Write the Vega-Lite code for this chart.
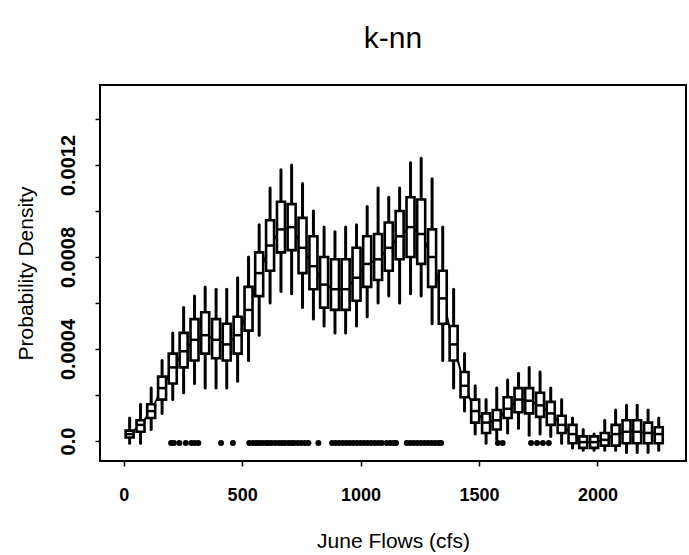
{
  "$schema": "https://vega.github.io/schema/vega-lite/v6.json",
  "width": 586,
  "height": 376,
  "autosize": {"type": "none"},
  "padding": {"left": 100, "top": 85, "right": 3, "bottom": 94},
  "background": "white",
  "title": {"text": "k-nn", "fontSize": 30, "font": "Liberation Sans", "fontWeight": "normal", "offset": 31, "color": "black"},
  "config": {
    "view": {"stroke": "black", "strokeWidth": 2},
    "axis": {"domain": false, "grid": false, "tickSize": 5, "tickWidth": 1.5, "tickColor": "black", "labelColor": "black", "labelFont": "Liberation Sans", "titleFont": "Liberation Sans", "titleColor": "black", "labelFlush": false, "labelOverlap": false}
  },
  "datasets": {
    "boxes": [
      {"x": 25, "lo": -0.00001, "q1": 0.000015, "med": 0.00003, "q3": 0.000045, "hi": 0.0001},
      {"x": 71, "lo": -0.00001, "q1": 0.00004, "med": 0.00007, "q3": 0.00009, "hi": 0.00016},
      {"x": 116, "lo": 0.00005, "q1": 0.0001, "med": 0.00013, "q3": 0.00016, "hi": 0.00023},
      {"x": 162, "lo": 0.00012, "q1": 0.00018, "med": 0.00023, "q3": 0.00028, "hi": 0.00035},
      {"x": 207, "lo": 0.00018, "q1": 0.00025, "med": 0.00032, "q3": 0.00038, "hi": 0.00047},
      {"x": 253, "lo": 0.00021, "q1": 0.00032, "med": 0.00039, "q3": 0.00047, "hi": 0.00058},
      {"x": 299, "lo": 0.00025, "q1": 0.00035, "med": 0.00044, "q3": 0.00053, "hi": 0.00063},
      {"x": 344, "lo": 0.00023, "q1": 0.00038, "med": 0.00046, "q3": 0.00056, "hi": 0.00067},
      {"x": 390, "lo": 0.00023, "q1": 0.00036, "med": 0.00044, "q3": 0.00053, "hi": 0.00066},
      {"x": 435, "lo": 0.00023, "q1": 0.00035, "med": 0.00042, "q3": 0.00051, "hi": 0.00066},
      {"x": 481, "lo": 0.00026, "q1": 0.00038, "med": 0.00046, "q3": 0.00054, "hi": 0.00071},
      {"x": 527, "lo": 0.00035, "q1": 0.00048, "med": 0.00057, "q3": 0.00067, "hi": 0.0008},
      {"x": 572, "lo": 0.00046, "q1": 0.00063, "med": 0.00073, "q3": 0.00082, "hi": 0.00094},
      {"x": 618, "lo": 0.0006, "q1": 0.00074, "med": 0.00085, "q3": 0.00096, "hi": 0.0011},
      {"x": 664, "lo": 0.00065, "q1": 0.00082, "med": 0.00092, "q3": 0.00104, "hi": 0.00118},
      {"x": 709, "lo": 0.00064, "q1": 0.00083, "med": 0.00093, "q3": 0.00103, "hi": 0.0012},
      {"x": 755, "lo": 0.00058, "q1": 0.00073, "med": 0.00084, "q3": 0.00097, "hi": 0.00112},
      {"x": 801, "lo": 0.00053, "q1": 0.00066, "med": 0.00076, "q3": 0.00089, "hi": 0.001},
      {"x": 846, "lo": 0.0005, "q1": 0.00058, "med": 0.00068, "q3": 0.0008, "hi": 0.00093},
      {"x": 892, "lo": 0.00047, "q1": 0.00057, "med": 0.00066, "q3": 0.00079, "hi": 0.00091},
      {"x": 937, "lo": 0.00047, "q1": 0.00057, "med": 0.00066, "q3": 0.00079, "hi": 0.00093},
      {"x": 983, "lo": 0.0005, "q1": 0.00061, "med": 0.00071, "q3": 0.00084, "hi": 0.00094},
      {"x": 1028, "lo": 0.00054, "q1": 0.00067, "med": 0.00077, "q3": 0.00089, "hi": 0.00102},
      {"x": 1074, "lo": 0.0006, "q1": 0.0007, "med": 0.00079, "q3": 0.0009, "hi": 0.0011},
      {"x": 1119, "lo": 0.00063, "q1": 0.00074, "med": 0.00084, "q3": 0.00095, "hi": 0.00106},
      {"x": 1165, "lo": 0.0006, "q1": 0.00079, "med": 0.00089, "q3": 0.001, "hi": 0.0011},
      {"x": 1211, "lo": 0.00064, "q1": 0.0008, "med": 0.00093, "q3": 0.00106, "hi": 0.00121},
      {"x": 1256, "lo": 0.00063, "q1": 0.00077, "med": 0.0009, "q3": 0.00105, "hi": 0.00123},
      {"x": 1302, "lo": 0.00051, "q1": 0.00067, "med": 0.0008, "q3": 0.00092, "hi": 0.00114},
      {"x": 1347, "lo": 0.00035, "q1": 0.00051, "med": 0.00062, "q3": 0.00074, "hi": 0.00093},
      {"x": 1393, "lo": 0.00023, "q1": 0.00035, "med": 0.00042, "q3": 0.0005, "hi": 0.00066},
      {"x": 1439, "lo": 0.00013, "q1": 0.00019, "med": 0.00024, "q3": 0.0003, "hi": 0.00038},
      {"x": 1484, "lo": 0.00003, "q1": 0.00008, "med": 0.00013, "q3": 0.00018, "hi": 0.00024},
      {"x": 1530, "lo": -0.00001, "q1": 0.000035, "med": 0.00008, "q3": 0.00012, "hi": 0.00018},
      {"x": 1575, "lo": 0.000005, "q1": 0.00005, "med": 0.00009, "q3": 0.000135, "hi": 0.00023},
      {"x": 1621, "lo": 0.000035, "q1": 0.0001, "med": 0.00014, "q3": 0.00019, "hi": 0.000265},
      {"x": 1667, "lo": 0.000055, "q1": 0.000125, "med": 0.00018, "q3": 0.00023, "hi": 0.000295},
      {"x": 1712, "lo": 0.000025, "q1": 0.00012, "med": 0.000175, "q3": 0.00023, "hi": 0.00032},
      {"x": 1758, "lo": 0.00003, "q1": 0.000105, "med": 0.000155, "q3": 0.00021, "hi": 0.0003},
      {"x": 1803, "lo": 0.00002, "q1": 0.00007, "med": 0.00012, "q3": 0.00017, "hi": 0.00023},
      {"x": 1849, "lo": -0.00001, "q1": 0.000035, "med": 0.00007, "q3": 0.00011, "hi": 0.00018},
      {"x": 1895, "lo": -0.00003, "q1": -0.00001, "med": 0.00003, "q3": 0.00007, "hi": 0.0001},
      {"x": 1940, "lo": -0.00004, "q1": -0.00003, "med": -0.000005, "q3": 0.00002, "hi": 0.00005},
      {"x": 1986, "lo": -0.00004, "q1": -0.00003, "med": -0.000005, "q3": 0.00002, "hi": 0.00003},
      {"x": 2031, "lo": -0.00004, "q1": -0.00002, "med": 0.000005, "q3": 0.000035, "hi": 0.00009},
      {"x": 2077, "lo": -0.00004, "q1": -0.00002, "med": 0.00003, "q3": 0.00007, "hi": 0.000135},
      {"x": 2123, "lo": -0.00005, "q1": -0.00001, "med": 0.00004, "q3": 0.00009, "hi": 0.000155},
      {"x": 2168, "lo": -0.00005, "q1": -0.00001, "med": 0.00004, "q3": 0.00009, "hi": 0.000155},
      {"x": 2214, "lo": -0.00005, "q1": -0.00001, "med": 0.000035, "q3": 0.00008, "hi": 0.000135},
      {"x": 2259, "lo": -0.00004, "q1": -0.00001, "med": 0.00003, "q3": 0.00006, "hi": 0.0001}
    ],
    "pts": [
      {"x": 200}, {"x": 212}, {"x": 235}, {"x": 262}, {"x": 286}, {"x": 300}, {"x": 315}, {"x": 411}, {"x": 461},
      {"x": 530}, {"x": 545}, {"x": 560}, {"x": 572}, {"x": 585}, {"x": 600}, {"x": 612}, {"x": 625}, {"x": 640}, {"x": 655}, {"x": 668}, {"x": 680}, {"x": 695}, {"x": 708}, {"x": 720}, {"x": 735}, {"x": 750}, {"x": 765}, {"x": 780}, {"x": 822},
      {"x": 880}, {"x": 895}, {"x": 910}, {"x": 925}, {"x": 940}, {"x": 955}, {"x": 970}, {"x": 985}, {"x": 1000}, {"x": 1015}, {"x": 1030}, {"x": 1045}, {"x": 1060}, {"x": 1075}, {"x": 1090}, {"x": 1110}, {"x": 1125}, {"x": 1140}, {"x": 1150},
      {"x": 1195}, {"x": 1210}, {"x": 1225}, {"x": 1240}, {"x": 1255}, {"x": 1270}, {"x": 1285}, {"x": 1300}, {"x": 1315}, {"x": 1330}, {"x": 1340},
      {"x": 1580}, {"x": 1600}, {"x": 1720}, {"x": 1745}, {"x": 1770}, {"x": 1795}
    ]
  },
  "layer": [
    {
      "data": {"name": "boxes"},
      "mark": {"type": "line", "color": "black", "strokeWidth": 2},
      "encoding": {
        "x": {"field": "x", "type": "quantitative", "title": "June Flows (cfs)",
          "scale": {"domain": [-79, 2353], "nice": false, "zero": false},
          "axis": {"values": [0, 500, 1000, 1500, 2000], "format": "d", "labelFontSize": 18, "labelFontWeight": "bold", "labelPadding": 20, "titleFontSize": 21, "titleFontWeight": "normal", "titlePadding": 26}},
        "y": {"field": "med", "type": "quantitative", "title": "Probability Density",
          "scale": {"domain": [-0.000087, 0.001548], "nice": false, "zero": false},
          "axis": {"values": [0, 0.0002, 0.0004, 0.0006, 0.0008, 0.001, 0.0012, 0.0014],
            "labelExpr": "datum.value == 0 ? '0.0' : (round(datum.value * 10000) % 4 == 0 ? format(datum.value, '.4f') : '')",
            "labelAngle": 270, "labelAlign": "center", "labelBaseline": "bottom", "labelFontSize": 20, "labelFontWeight": "bold", "labelPadding": 17,
            "titleFontSize": 21, "titleFontWeight": "normal", "titlePadding": 22}}
      }
    },
    {
      "data": {"name": "boxes"},
      "mark": {"type": "rule", "color": "black", "strokeWidth": 3, "strokeCap": "round"},
      "encoding": {
        "x": {"field": "x", "type": "quantitative", "title": "June Flows (cfs)"},
        "y": {"field": "lo", "type": "quantitative", "title": "Probability Density"},
        "y2": {"field": "hi"}
      }
    },
    {
      "data": {"name": "boxes"},
      "mark": {"type": "bar", "width": 8, "fill": "white", "stroke": "black", "strokeWidth": 2.6},
      "encoding": {
        "x": {"field": "x", "type": "quantitative", "title": "June Flows (cfs)"},
        "y": {"field": "q1", "type": "quantitative", "title": "Probability Density"},
        "y2": {"field": "q3"}
      }
    },
    {
      "data": {"name": "boxes"},
      "mark": {"type": "tick", "orient": "horizontal", "size": 8, "thickness": 2.5, "color": "black", "opacity": 1},
      "encoding": {
        "x": {"field": "x", "type": "quantitative", "title": "June Flows (cfs)"},
        "y": {"field": "med", "type": "quantitative", "title": "Probability Density"}
      }
    },
    {
      "data": {"name": "pts"},
      "mark": {"type": "circle", "color": "black", "opacity": 1, "size": 36, "yOffset": 2},
      "encoding": {
        "x": {"field": "x", "type": "quantitative", "title": "June Flows (cfs)"},
        "y": {"datum": 0, "type": "quantitative"}
      }
    }
  ]
}
